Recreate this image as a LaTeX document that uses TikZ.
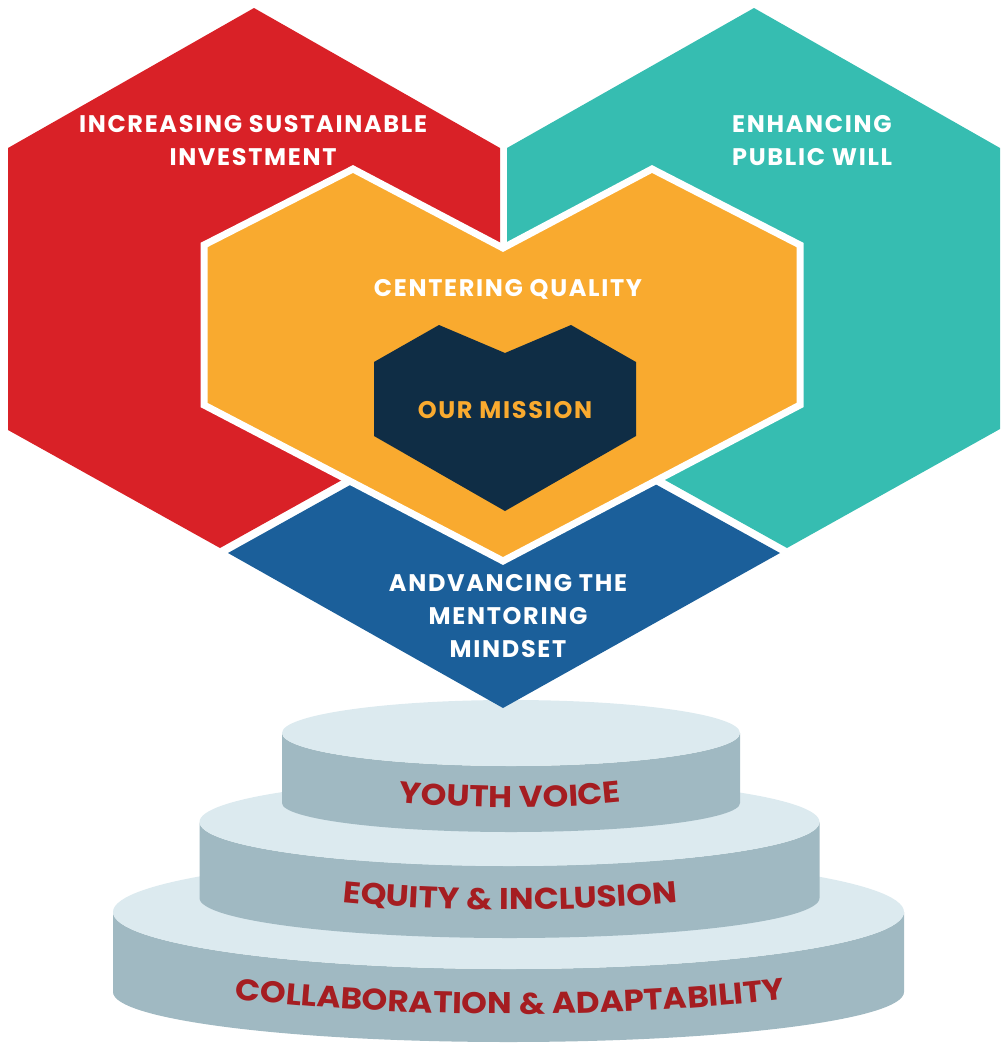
\documentclass[tikz,border=0pt]{standalone}
\usepackage{fontspec}
\setmainfont{Poppins}
\newfontfamily\hexfont{Poppins}[LetterSpace=7]
\newfontfamily\stepfont{Poppins}[FakeStretch=1.09]
\usetikzlibrary{decorations.text}

\definecolor{hexred}{HTML}{D92127}
\definecolor{hexteal}{HTML}{36BDB1}
\definecolor{hexorange}{HTML}{F9AA2F}
\definecolor{hexnavy}{HTML}{0F2D45}
\definecolor{hexblue}{HTML}{1B5F9A}
\definecolor{steplight}{HTML}{DCEAEF}
\definecolor{stepgrey}{HTML}{A0B9C2}
\definecolor{steptext}{HTML}{A51D21}

\tikzset{
  hexlabel/.style={text=white, font=\hexfont\bfseries\fontsize{24}{33}\selectfont, align=center, inner sep=0pt},
  steplabel/.style={decorate, decoration={text along path, text align=center, text={|\stepfont\bfseries\fontsize{30}{30}\selectfont\color{steptext}|#1}}}
}

\begin{document}
\begin{tikzpicture}[x=1pt, y=-1pt]
    \useasboundingbox (0,0) rectangle (1005,1044);
    \clip (0,0) rectangle (1005,1044);

    % Stacked steps (bottom tier first)
    \foreach \cx/\rx/\ryt/\ryb/\yt/\yb in {508.5/395.5/57/50/912/992, 509.5/310/44/40/822/898, 511/229/33/29/733/803} {
        \fill[stepgrey] (\cx-\rx,\yt) -- (\cx-\rx,\yb)
            arc[start angle=180, end angle=0, x radius=\rx, y radius=\ryb]
            -- (\cx+\rx,\yt)
            arc[start angle=0, end angle=180, x radius=\rx, y radius=\ryt] -- cycle;
        \fill[steplight] (\cx,\yt) ellipse[x radius=\rx, y radius=\ryt];
    }

    % Step labels, bent along the fronts
    \path[steplabel={YOUTH VOICE}] (360,797) .. controls (450,811) and (570,811) .. (660,797);
    \path[steplabel={EQUITY {\&} INCLUSION}] (300,897) .. controls (420,914) and (600,914) .. (720,897);
    \path[steplabel={COLLABORATION {\&} ADAPTABILITY}] (190,993) .. controls (380,1021) and (640,1021) .. (830,993);

    % Outer hexagons
    \fill[hexred] (8,148) -- (254,8) -- (500,148) -- (500,392) -- (220,548) -- (8,430) -- cycle;
    \fill[hexteal] (507,148) -- (754,8) -- (1000,148) -- (1000,429) -- (787,548) -- (507,392) -- cycle;
    \fill[hexblue] (228,553) -- (503,400) -- (780,553) -- (503,708) -- cycle;

    % Centre heart with white rim
    \filldraw[fill=hexorange, draw=white, line width=7pt, line join=miter]
        (204,245) -- (353,169) -- (503,248) -- (652,169) -- (800,245)
        -- (800,405) -- (503,561) -- (204,405) -- cycle;
    \fill[hexnavy] (374,362) -- (439,325) -- (505,353) -- (571,325) -- (636,362)
        -- (636,436) -- (505,511) -- (374,436) -- cycle;

    % Labels
    \node[hexlabel] (invest) at (253,141) {INCREASING SUSTAINABLE\\INVESTMENT};
    \node[hexlabel, align=left, anchor=west] (publicwill) at (732,141) {ENHANCING\\PUBLIC WILL};
    \node[hexlabel] (quality) at (508,289) {CENTERING QUALITY};
    \node[hexlabel, text=hexorange] (mission) at (505,410) {OUR MISSION};
    \node[hexlabel] (mindset) at (508,616) {ANDVANCING THE\\MENTORING\\MINDSET};
\end{tikzpicture}
\end{document}
